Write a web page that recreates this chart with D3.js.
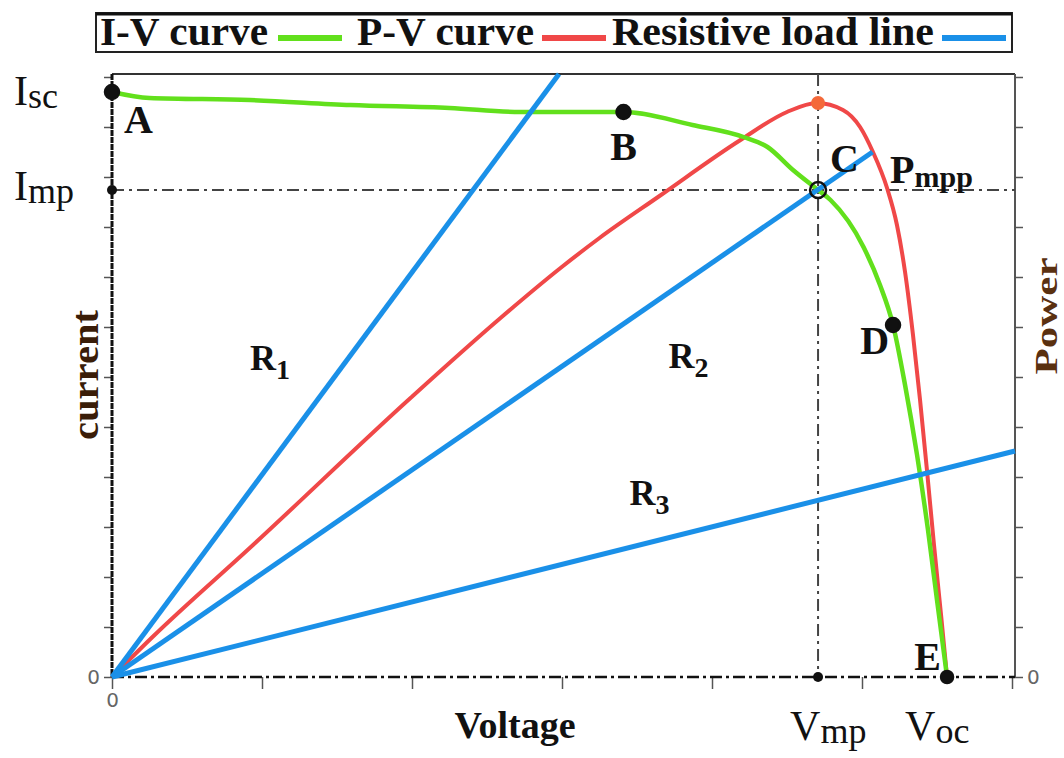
<!DOCTYPE html>
<html>
<head>
<meta charset="utf-8">
<script src="https://cdn.jsdelivr.net/npm/d3@7"></script>
<style>
  body { margin: 0; background: #fff; }
</style>
</head>
<body>
<div id="chart"></div>
<script>
const serif = "'Liberation Serif', Tinos, 'Times New Roman', Times, serif";

// axis ticks (units of one tick step)
const voltageTicks = [0, 1, 2, 3, 4, 5, 6];
const currentTicks = [0, 1, 2, 3, 4, 5, 6, 7, 8, 9, 10, 11, 12];
const powerTicks = [0, 1, 2, 3, 4, 5, 6, 7, 8, 9, 10, 11, 12];

// I-V curve
const ivVoltage = [0, 0.25, 0.92, 1.59, 2.25, 2.72, 3.41, 3.87, 4.21, 4.37, 4.54, 4.707, 4.79, 5.01, 5.12, 5.207, 5.287, 5.367, 5.44, 5.50, 5.567];
const ivCurrent = [11.70, 11.58, 11.54, 11.44, 11.38, 11.30, 11.30, 11.04, 10.80, 10.60, 10.14, 9.74, 9.54, 8.60, 7.84, 7.04, 5.84, 4.44, 2.94, 1.54, 0];

// P-V curve
const pvVoltage = [0, 0.27, 0.94, 1.99, 2.59, 2.99, 3.25, 3.65, 4.19, 4.50, 4.70, 4.873, 4.987, 5.073, 5.167, 5.233, 5.287, 5.34, 5.387, 5.433, 5.48, 5.527, 5.567];
const pvPower = [0, 0.80, 2.64, 5.58, 7.18, 8.18, 8.78, 9.62, 10.74, 11.30, 11.48, 11.34, 11.00, 10.50, 9.78, 9.04, 8.10, 6.84, 5.54, 4.14, 2.64, 1.24, 0];

// resistive load lines (from origin to end point)
const loadNames = ["R1", "R2", "R3"];
const loadEndVoltage = [2.98, 5.07, 6.02];
const loadEndCurrent = [12.06, 10.50, 4.52];
const loadLabelVoltage = [0.92, 3.71, 3.45];
const loadLabelCurrent = [6.14, 6.18, 3.44];

// characteristic points
const isc = 11.70, imp = 9.74, vmp = 4.707, voc = 5.567, pmax = 11.48;
const pointNames = ["A", "B", "C", "D", "E"];
const pointVoltage = [0, 3.41, 4.707, 5.207, 5.567];
const pointCurrent = [11.70, 11.30, 9.74, 7.04, 0];

const legendNames = ["I-V curve", "P-V curve", "Resistive load line"];
const legendColors = ["#62e01c", "#f04848", "#1a90e8"];

const width = 1064, height = 758;
const marginLeft = 112, marginRight = 49, marginTop = 74, marginBottom = 81;

const svg = d3.select("#chart").append("svg")
  .attr("width", width).attr("height", height)
  .attr("font-family", serif);

const x = d3.scaleLinear().domain([0, 6.02]).range([marginLeft, width - marginRight]);
const y = d3.scaleLinear().domain([0, 12.06]).range([height - marginBottom, marginTop]);
const yP = d3.scaleLinear().domain([0, 12.06]).range([height - marginBottom, marginTop]);

// axes (ticks only, the lines are drawn by hand below)
const axisColor = "#555";
const gl = svg.append("g").attr("transform", "translate(" + marginLeft + ",0)")
  .call(d3.axisLeft(y).tickValues(currentTicks).tickSize(8).tickPadding(4)
    .tickFormat(d => d === 0 ? "0" : ""));
const gb = svg.append("g").attr("transform", "translate(0," + y(0) + ")")
  .call(d3.axisBottom(x).tickValues(voltageTicks).tickSize(12).tickPadding(4)
    .tickFormat(d => d === 0 ? "0" : ""));
const gr = svg.append("g").attr("transform", "translate(" + x(6.02) + ",0)")
  .call(d3.axisRight(yP).tickValues(powerTicks).tickSize(8).tickPadding(4)
    .tickFormat(d => d === 0 ? "0" : ""));
[gl, gb, gr].forEach(g => {
  g.select(".domain").remove();
  g.selectAll(".tick line").attr("stroke", axisColor).attr("stroke-width", 1.5);
  g.selectAll(".tick text").attr("fill", "#666")
    .attr("font-family", "'DejaVu Sans', sans-serif").attr("font-size", 20);
});

// frame
svg.append("line").attr("x1", x(0)).attr("x2", x(6.02)).attr("y1", y(12.06)).attr("y2", y(12.06))
  .attr("stroke", "#333").attr("stroke-width", 2);
svg.append("line").attr("x1", x(6.02)).attr("x2", x(6.02)).attr("y1", y(12.06)).attr("y2", y(0))
  .attr("stroke", "#555").attr("stroke-width", 2);
svg.append("line").attr("x1", x(0)).attr("x2", x(0)).attr("y1", y(12.06)).attr("y2", y(0))
  .attr("stroke", "#111").attr("stroke-width", 3).attr("stroke-dasharray", "6,1");
svg.append("line").attr("x1", x(0)).attr("x2", x(6.02)).attr("y1", y(0)).attr("y2", y(0))
  .attr("stroke", "#111").attr("stroke-width", 2.5).attr("stroke-dasharray", "12,4,3,4");

// Imp / Vmp guides
svg.append("line").attr("x1", x(0)).attr("x2", x(6.02)).attr("y1", y(imp)).attr("y2", y(imp))
  .attr("stroke", "#444").attr("stroke-width", 2).attr("stroke-dasharray", "12,5,3,5");
svg.append("line").attr("x1", x(vmp)).attr("x2", x(vmp)).attr("y1", y(12.06)).attr("y2", y(0))
  .attr("stroke", "#444").attr("stroke-width", 2).attr("stroke-dasharray", "12,5,3,5");

// curves
const line = d3.line().x(d => x(d[0])).y(d => d[1]).curve(d3.curveMonotoneX);
const ivData = ivVoltage.map((v, i) => [v, y(ivCurrent[i])]);
const pvData = pvVoltage.map((v, i) => [v, yP(pvPower[i])]);

svg.append("path").datum(pvData).attr("d", line)
  .attr("fill", "none").attr("stroke", legendColors[1]).attr("stroke-width", 4);
svg.append("path").datum(ivData).attr("d", line)
  .attr("fill", "none").attr("stroke", legendColors[0]).attr("stroke-width", 4.5);

// load lines
loadNames.forEach((name, i) => {
  svg.append("line")
    .attr("x1", x(0)).attr("y1", y(0))
    .attr("x2", x(loadEndVoltage[i])).attr("y2", y(loadEndCurrent[i]))
    .attr("stroke", legendColors[2]).attr("stroke-width", 5);
});

// markers
svg.append("circle").attr("cx", x(0)).attr("cy", y(imp)).attr("r", 5).attr("fill", "#111");
svg.append("circle").attr("cx", x(vmp)).attr("cy", y(0)).attr("r", 5).attr("fill", "#111");
svg.append("circle").attr("cx", x(vmp)).attr("cy", yP(pmax)).attr("r", 7).attr("fill", "#f4693a");
const markerFill = ["#111", "#111", "none", "#111", "#111"];
const markerR = [7, 7, 8, 7, 6];
pointNames.forEach((n, i) => {
  svg.append("circle").attr("cx", x(pointVoltage[i])).attr("cy", y(pointCurrent[i]))
    .attr("r", markerR[i]).attr("fill", markerFill[i])
    .attr("stroke", "#111").attr("stroke-width", 2.5);
});

// point labels
const labelDx = [12, 0, 12, -4, -6];
const labelDy = [41, 48, -18, 29, -7];
const labelAnchor = ["start", "middle", "start", "end", "end"];
pointNames.forEach((n, i) => {
  svg.append("text")
    .attr("x", x(pointVoltage[i]) + labelDx[i]).attr("y", y(pointCurrent[i]) + labelDy[i])
    .attr("text-anchor", labelAnchor[i])
    .attr("font-size", 40).attr("font-weight", "bold").attr("fill", "#111")
    .text(n);
});

function subLabel(px, py, main, sub, size, subSize, shift, bold) {
  const t = svg.append("text").attr("x", px).attr("y", py).attr("fill", "#111")
    .attr("font-size", size).attr("font-weight", bold ? "bold" : "normal");
  t.append("tspan").text(main);
  t.append("tspan").attr("dy", shift).attr("font-size", subSize).text(sub);
  return t;
}

subLabel(x(vmp) + 72, y(imp) - 7, "P", "mpp", 40, 30, 4, true);
loadNames.forEach((name, i) => {
  subLabel(x(loadLabelVoltage[i]), y(loadLabelCurrent[i]), "R", name.slice(1), 36, 28, 9, true);
});

subLabel(14, y(isc) + 13, "I", "sc", 42, 36, 3, false);
subLabel(14, y(imp) + 10, "I", "mp", 42, 36, 3, false);
subLabel(x(vmp) - 28, 740, "V", "mp", 42, 36, 3, false);
subLabel(x(voc) - 42, 740, "V", "oc", 42, 36, 3, false);

// axis titles
svg.append("text").attr("x", 515).attr("y", 738).attr("text-anchor", "middle")
  .attr("font-size", 38).attr("font-weight", "bold").attr("fill", "#111")
  .text("Voltage");
svg.append("text").attr("transform", "translate(98,375) rotate(-90)").attr("text-anchor", "middle")
  .attr("font-size", 38).attr("font-weight", "bold").attr("fill", "#3a1d08")
  .attr("textLength", 130).attr("lengthAdjust", "spacingAndGlyphs")
  .text("current");
svg.append("text").attr("transform", "translate(1057,316) rotate(-90)").attr("text-anchor", "middle")
  .attr("font-size", 32).attr("font-weight", "bold").attr("fill", "#5a3010")
  .attr("textLength", 117).attr("lengthAdjust", "spacingAndGlyphs")
  .text("Power");

// legend
const legend = svg.append("g");
legend.append("rect").attr("x", 96).attr("y", 13).attr("width", 916).attr("height", 39)
  .attr("fill", "#fff").attr("stroke", "#222").attr("stroke-width", 2);
legend.append("line").attr("x1", 96).attr("x2", 1012).attr("y1", 14).attr("y2", 14)
  .attr("stroke", "#111").attr("stroke-width", 3);
const legendTextX = [100, 357, 612];
const legendTextLen = [168, 177, 322];
const legendSwatchX = [278, 542, 942];
legendNames.forEach((n, i) => {
  legend.append("text").attr("x", legendTextX[i]).attr("y", 45)
    .attr("font-size", 40).attr("font-weight", "bold").attr("fill", "#111")
    .attr("textLength", legendTextLen[i]).attr("lengthAdjust", "spacingAndGlyphs")
    .text(n);
  legend.append("line").attr("x1", legendSwatchX[i]).attr("x2", legendSwatchX[i] + 64)
    .attr("y1", 38).attr("y2", 38)
    .attr("stroke", legendColors[i]).attr("stroke-width", 6);
});
</script>
</body>
</html>
